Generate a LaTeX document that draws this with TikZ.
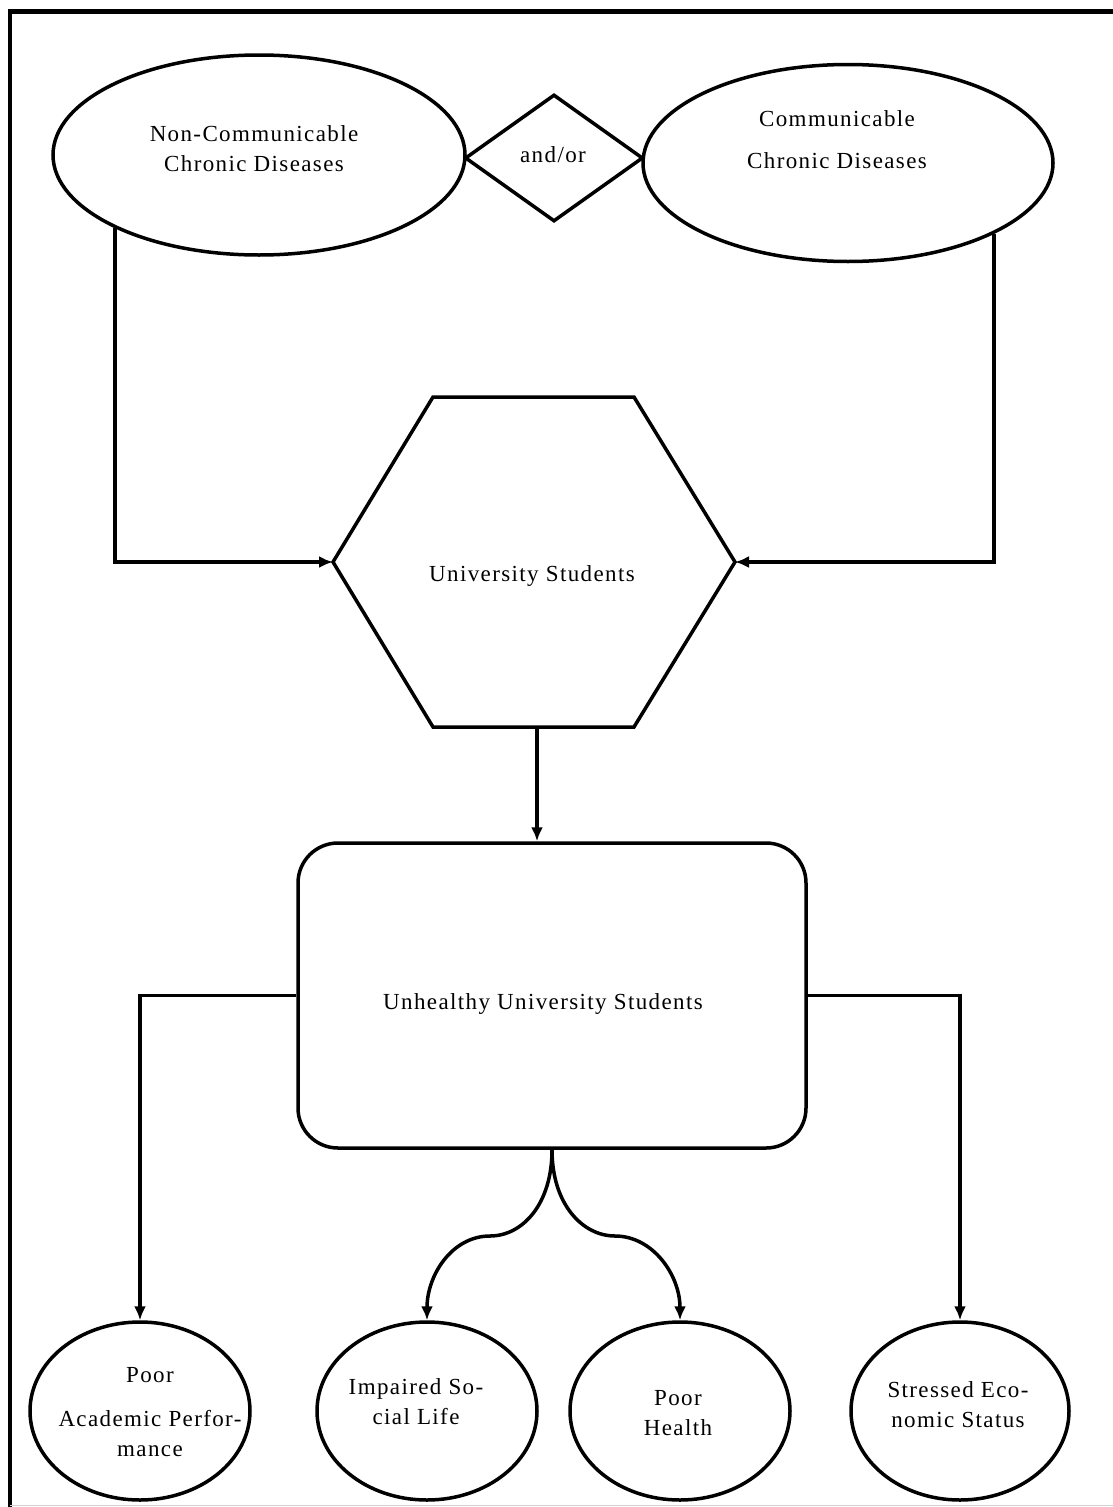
\documentclass[tikz,border=0pt]{standalone}
\usepackage{fontspec}
\setmainfont{Liberation Serif}[LetterSpace=6]
\usetikzlibrary{shapes.geometric,arrows.meta}

\begin{document}
\begin{tikzpicture}[x=1pt, y=-1pt, line width=3.5pt,
    every node/.style={font=\fontsize{23}{30}\selectfont, align=center},
    oval/.style={draw, ellipse, inner sep=0pt},
    arr/.style={-{Latex[length=14pt,width=12pt]}}]

        \useasboundingbox (0, 0) rectangle (1113, 1507);

        % frame
        \draw [line width=4.5pt] (10, 1507) -- (10, 11.5) -- (1113, 11.5);
        \draw [line width=1pt, gray!35] (10, 1505) -- (1113, 1505);

        % top row
        \node (ncd) at (259, 155) [oval, minimum width=412, minimum height=200] {};
        \node (n1) at (254, 149) {Non-Communicable\\Chronic Diseases};

        \node (andor) at (554, 158) [draw, diamond, aspect=1.4, inner sep=0pt, minimum width=178, minimum height=127] {};
        \node (n2) at (553, 155) {and/or};

        \node (cd) at (848, 163) [oval, minimum width=410, minimum height=197] {};
        \node (n3) at (837, 140) {Communicable\\[12pt]Chronic Diseases};

        % hexagon
        \coordinate (hexL) at (333, 562);
        \coordinate (hexR) at (735, 562);
        \coordinate (hexB) at (537, 729);
        \draw (hexL) -- (433, 397) -- (634, 397) -- (hexR) -- (634, 727) -- (433, 727) -- cycle;
        \node (uni) at (532, 576) {University Students};

        \draw [arr] (ncd.207) |- (hexL);
        \draw [arr] (cd.334) |- (hexR);

        % middle box
        \node (uus) at (552, 995.5) [draw, rounded corners=40, minimum width=508, minimum height=305] {};
        \node (n4) at (543, 1004) {Unhealthy University Students};

        \draw [arr] (hexB) -- (hexB |- uus.north);

        % bottom row
        \node (ape) at (140, 1411) [oval, minimum width=220, minimum height=178] {};
        \node (n5) at (150, 1412) {Poor\\[14pt]Academic Perfor-\\mance};

        \node (isl) at (427, 1411) [oval, minimum width=220, minimum height=178] {};
        \node (n6) at (416, 1402) {Impaired So-\\cial Life};

        \node (ph) at (680, 1411) [oval, minimum width=220, minimum height=178] {};
        \node (n7) at (678, 1413) {Poor\\Health};

        \node (ses) at (960, 1411) [oval, minimum width=218, minimum height=178] {};
        \node (n8) at (958, 1405) {Stressed Eco-\\nomic Status};

        \coordinate (lmid) at (490, 1236);
        \coordinate (rmid) at (615, 1236);

        \draw [arr] (uus.west) -| (ape.north);
        \draw [arr] (uus.east) -| (ses.north);
        \draw [arr] (uus.south) .. controls +(0, 55) and +(32, 0) .. (lmid)
            .. controls +(-38, 0) and +(0, -45) .. (isl.north);
        \draw [arr] (uus.south) .. controls +(0, 55) and +(-32, 0) .. (rmid)
            .. controls +(38, 0) and +(0, -45) .. (ph.north);

    \end{tikzpicture}
\end{document}
